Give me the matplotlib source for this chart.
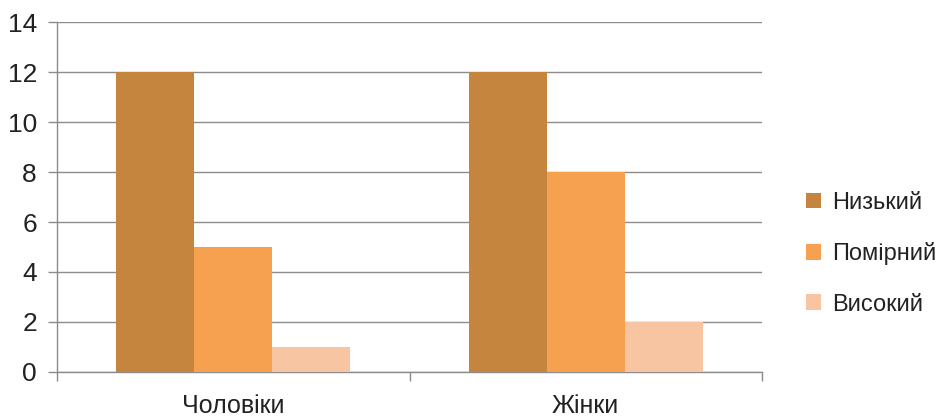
import matplotlib
matplotlib.use("Agg")
import matplotlib.pyplot as plt
from matplotlib.patches import Patch
import numpy as np

plt.rcParams['font.family'] = ['Liberation Sans', 'DejaVu Sans']

categories = ["Чоловіки", "Жінки"]
series_names = ["Низький", "Помірний", "Високий"]
# values per category: Чоловіки -> 12, 5, 1 ; Жінки -> 12, 8, 2
low = [12, 12]
moderate = [5, 8]
high = [1, 2]
yticks = [0, 2, 4, 6, 8, 10, 12, 14]

colors = ["#C5853F", "#F5A150", "#F8C5A3"]
grid_color = "#8C8C8C"

fig = plt.figure(figsize=(9.38, 4.2), dpi=100)
ax = fig.add_axes([0.0608, 0.1143, 0.7516, 0.8333])

x = np.arange(len(categories))
w = 0.2216
for i, (vals, c) in enumerate(zip([low, moderate, high], colors)):
    ax.bar(x + (i - 1) * w, vals, width=w, color=c, zorder=3, label=series_names[i])

ax.set_xlim(-0.5, len(categories) - 0.5)
ax.set_ylim(0, 14)
ax.set_yticks(yticks)
ax.set_yticklabels([str(t) for t in yticks])

ax.yaxis.grid(True, color=grid_color, linewidth=1.0, zorder=0)
ax.set_axisbelow(True)

for side in ["top", "right"]:
    ax.spines[side].set_visible(False)
for side in ["left", "bottom"]:
    ax.spines[side].set_color(grid_color)
    ax.spines[side].set_linewidth(1.0)

ax.tick_params(axis="y", length=6.5, width=1.0, color=grid_color, pad=8,
               labelsize=19, labelcolor="#222222")

ax.set_xticks(x)
ax.set_xticklabels(categories)
ax.set_xticks(np.arange(-0.5, len(categories)), minor=True)
ax.tick_params(axis="x", which="major", length=0, pad=16, labelsize=18,
               labelcolor="#222222")
ax.tick_params(axis="x", which="minor", length=6.5, width=1.0, color=grid_color)

handles = [Patch(facecolor=c, edgecolor="none") for c in colors]
fig.legend(handles, series_names, loc="center left",
           bbox_to_anchor=(0.8466, 0.396), frameon=False, fontsize=17,
           handlelength=0.64, handleheight=0.64, handletextpad=0.45,
           labelspacing=1.2, borderpad=0, labelcolor="#222222")

fig.savefig("out.png", dpi=100)
